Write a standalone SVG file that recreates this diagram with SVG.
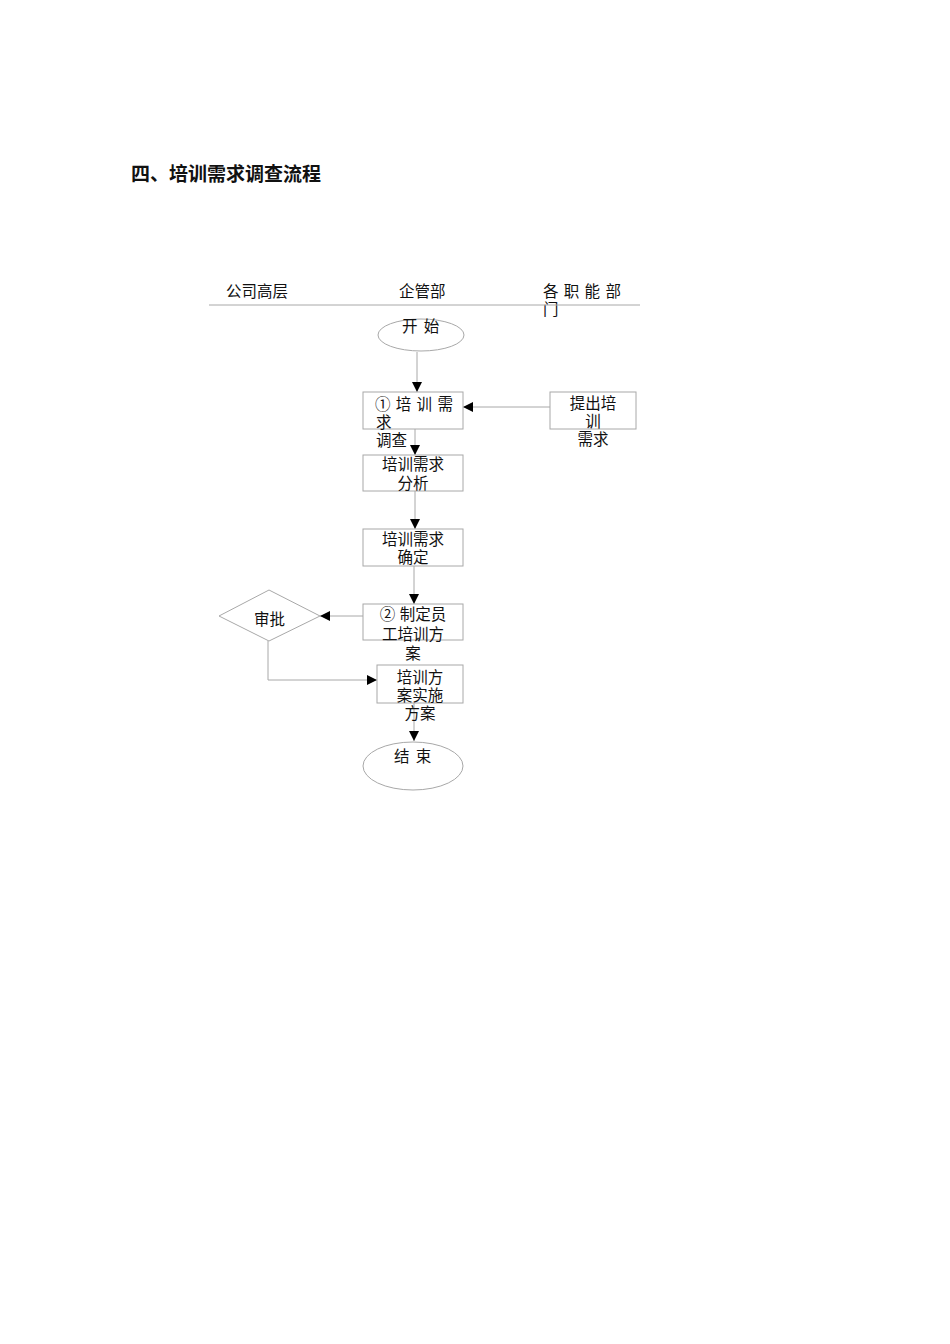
<svg xmlns="http://www.w3.org/2000/svg" width="950" height="1344" viewBox="0 0 950 1344">
<style>
text{font-family:"Liberation Sans","Noto Sans CJK SC",sans-serif;font-size:15.5px;fill:#111}
.t{font-weight:bold;font-size:19px}
.c{text-anchor:middle}
.w{letter-spacing:1px}
.h{letter-spacing:0.5px}
.b{fill:#fff;stroke:#a8a8a8;stroke-width:1}
.l{fill:none;stroke:#a8a8a8;stroke-width:1}
</style>
<defs>
<marker id="ah" markerWidth="10" markerHeight="10" refX="10" refY="5" orient="auto" markerUnits="userSpaceOnUse">
<path d="M0,0 L10,5 L0,10 z" fill="#000"/>
</marker>
</defs>
<rect width="950" height="1344" fill="#fff"/>
<text class="t" x="131" y="181">四、培训需求调查流程</text>
<g id="header">
<text x="226" y="297">公司高层</text>
<text x="399" y="297">企管部</text>
<text class="h" x="543" y="297">各 职 能 部</text>
<text x="543" y="315">门</text>
<line class="l" x1="209" y1="305" x2="640" y2="305"/>
</g>
<g id="connectors">
<line class="l" x1="417" y1="352" x2="417" y2="392" marker-end="url(#ah)"/>
<line class="l" x1="550" y1="407" x2="463" y2="407" marker-end="url(#ah)"/>
<line class="l" x1="415" y1="429" x2="415" y2="455" marker-end="url(#ah)"/>
<line class="l" x1="415" y1="491" x2="415" y2="529" marker-end="url(#ah)"/>
<line class="l" x1="414" y1="566" x2="414" y2="604" marker-end="url(#ah)"/>
<line class="l" x1="363" y1="616" x2="320" y2="616" marker-end="url(#ah)"/>
<polyline class="l" points="268,641 268,680 377,680" marker-end="url(#ah)"/>
<line class="l" x1="414" y1="703" x2="414" y2="741" marker-end="url(#ah)"/>
</g>
<g id="start">
<ellipse class="b" cx="421" cy="335" rx="43" ry="16"/>
<text class="w" x="402" y="332">开 始</text>
</g>
<g id="n1">
<rect class="b" x="363" y="392" width="100" height="37"/>
<text class="h" x="375" y="410">① 培 训 需</text>
<text x="376" y="428">求</text>
<text x="376" y="446">调查</text>
</g>
<g id="n0">
<rect class="b" x="550" y="392" width="86" height="37"/>
<text class="c" x="593" y="409">提出培</text>
<text class="c" x="593" y="427">训</text>
<text class="c" x="593" y="445">需求</text>
</g>
<g id="n2">
<rect class="b" x="363" y="455" width="100" height="36"/>
<text class="c" x="413" y="470">培训需求</text>
<text class="c" x="413" y="489">分析</text>
</g>
<g id="n3">
<rect class="b" x="363" y="529" width="100" height="37"/>
<text class="c" x="413" y="545">培训需求</text>
<text class="c" x="413" y="563">确定</text>
</g>
<g id="n4">
<rect class="b" x="363" y="604" width="100" height="36"/>
<text class="c" x="413" y="620">② 制定员</text>
<text class="c" x="413" y="640">工培训方</text>
<text class="c" x="413" y="659">案</text>
</g>
<g id="approve">
<polygon class="b" points="269,590 320,616 269,641 219,616"/>
<text x="254" y="625">审批</text>
</g>
<g id="n5">
<rect class="b" x="377" y="665" width="86" height="38"/>
<text class="c" x="420" y="683">培训方</text>
<text class="c" x="420" y="701">案实施</text>
<text class="c" x="420" y="719">方案</text>
</g>
<g id="end">
<ellipse class="b" cx="413" cy="766" rx="50" ry="24"/>
<text class="w" x="394" y="762">结 束</text>
</g>
</svg>
